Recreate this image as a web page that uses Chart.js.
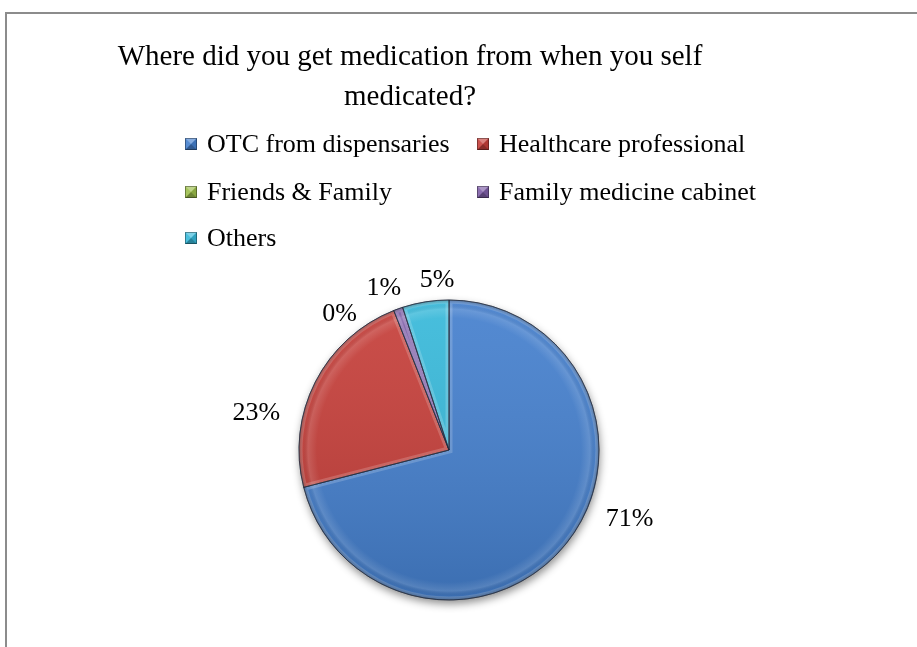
<!doctype html>
<html lang="en">
<head>
<meta charset="utf-8">
<title>Where did you get medication from when you self medicated?</title>
<style>
  * { margin: 0; padding: 0; }
  body { background: #fff; width: 917px; height: 647px; overflow: hidden; position: relative; }
  .frame { position: absolute; left: 5px; top: 12px; width: 940px; height: 700px; border: 2px solid #8c8c8c; }
  #pie { position: absolute; left: 0; top: 0; }
</style>
</head>
<body>
<div class="frame"></div>
<canvas id="pie" width="917" height="647"></canvas>
<script src="https://cdn.jsdelivr.net/npm/chart.js/dist/chart.umd.min.js"></script>
<script>
// data
const sources = ['OTC from dispensaries', 'Healthcare professional', 'Friends & Family', 'Family medicine cabinet', 'Others'];
const shares = [71, 23, 0, 1, 5];
const titleLines = ['Where did you get medication from when you self', 'medicated?'];

// look
const sliceColors = ['#4580CE', '#C63F3A', '#9DBF4C', '#7F5FA8', '#38B9DA'];
const serif = "'Liberation Serif', 'Times New Roman', serif";
const titleX = 410, titleY = [57, 97];
const legendCols = [185, 477], legendRows = [144, 192, 238];
// labels sit just outside the rim, then get pushed a little like excel's best fit
const labelGap = 28;
const labelNudge = [[40, -40], [-34, 44], [-44, 30], [-5, 6], [16, 6]];

function bevelBox(ctx, x, y, s, color) {
  ctx.fillStyle = color;
  ctx.fillRect(x, y, s, s);
  const cx = x + s / 2, cy = y + s / 2;
  const tri = (ax, ay, bx, by, fill) => {
    ctx.beginPath();
    ctx.moveTo(ax, ay); ctx.lineTo(bx, by); ctx.lineTo(cx, cy); ctx.closePath();
    ctx.fillStyle = fill; ctx.fill();
  };
  tri(x, y, x + s, y, 'rgba(255,255,255,0.35)');
  tri(x, y + s, x + s, y + s, 'rgba(0,0,0,0.3)');
  tri(x, y, x, y + s, 'rgba(255,255,255,0.1)');
  tri(x + s, y, x + s, y + s, 'rgba(0,0,0,0.12)');
  ctx.strokeStyle = 'rgba(0,0,0,0.35)';
  ctx.lineWidth = 1;
  ctx.strokeRect(x + 0.5, y + 0.5, s - 1, s - 1);
}

function slicePath(ctx, a) {
  ctx.beginPath();
  ctx.moveTo(a.x, a.y);
  ctx.arc(a.x, a.y, a.outerRadius, a.startAngle, a.endAngle);
  ctx.closePath();
}

const pieDecor = {
  id: 'pieDecor',
  beforeDatasetsDraw(chart) {
    // drop shadow under the whole pie
    const a = chart.getDatasetMeta(0).data[0];
    const ctx = chart.ctx;
    ctx.save();
    ctx.shadowColor = 'rgba(0,0,0,0.45)';
    ctx.shadowBlur = 9;
    ctx.shadowOffsetX = 1;
    ctx.shadowOffsetY = 4;
    ctx.fillStyle = '#fff';
    ctx.beginPath();
    ctx.arc(a.x, a.y, a.outerRadius, 0, Math.PI * 2);
    ctx.fill();
    ctx.restore();
  },
  afterDatasetsDraw(chart) {
    const ctx = chart.ctx;
    chart.getDatasetMeta(0).data.forEach(a => {
      if (a.endAngle - a.startAngle <= 0) return;
      const { x, y, outerRadius: r } = a;
      ctx.save();
      slicePath(ctx, a);
      ctx.clip();
      const lin = ctx.createLinearGradient(0, y - r, 0, y + r);
      lin.addColorStop(0, 'rgba(255,255,255,0.08)');
      lin.addColorStop(1, 'rgba(0,0,0,0.14)');
      ctx.fillStyle = lin;
      ctx.fillRect(x - r, y - r, 2 * r, 2 * r);
      const rad = ctx.createRadialGradient(x, y, 0, x, y, r);
      rad.addColorStop(0, 'rgba(255,255,255,0)');
      rad.addColorStop(0.88, 'rgba(255,255,255,0)');
      rad.addColorStop(0.94, 'rgba(255,255,255,0.13)');
      rad.addColorStop(0.975, 'rgba(0,0,0,0)');
      rad.addColorStop(1, 'rgba(0,0,0,0.3)');
      ctx.fillStyle = rad;
      ctx.fillRect(x - r, y - r, 2 * r, 2 * r);
      // soft highlight along cut edges
      slicePath(ctx, a);
      ctx.strokeStyle = 'rgba(255,255,255,0.18)';
      ctx.lineWidth = 7;
      ctx.stroke();
      ctx.restore();
      ctx.save();
      slicePath(ctx, a);
      ctx.strokeStyle = 'rgba(25,35,55,0.6)';
      ctx.lineWidth = 1;
      ctx.stroke();
      ctx.restore();
    });
  },
  afterDraw(chart) {
    const ctx = chart.ctx;
    ctx.save();
    ctx.fillStyle = '#000';
    ctx.textBaseline = 'middle';

    // title
    ctx.font = '29px ' + serif;
    ctx.textAlign = 'center';
    titleLines.forEach((t, i) => ctx.fillText(t, titleX, titleY[i]));

    // legend, two columns
    ctx.font = '26px ' + serif;
    ctx.textAlign = 'left';
    sources.forEach((s, i) => {
      const lx = legendCols[i % 2], ly = legendRows[Math.floor(i / 2)];
      bevelBox(ctx, lx, ly - 6, 12, sliceColors[i]);
      ctx.fillStyle = '#000';
      ctx.fillText(s, lx + 22, ly + 1);
    });

    // percentage labels
    ctx.textAlign = 'center';
    const total = shares.reduce((s, v) => s + v, 0);
    chart.getDatasetMeta(0).data.forEach((a, i) => {
      const mid = (a.startAngle + a.endAngle) / 2;
      const d = a.outerRadius + labelGap;
      const px = a.x + Math.cos(mid) * d + labelNudge[i][0];
      const py = a.y + Math.sin(mid) * d + labelNudge[i][1];
      ctx.fillText(Math.round(shares[i] / total * 100) + '%', px, py);
    });
    ctx.restore();
  }
};

new Chart(document.getElementById('pie'), {
  type: 'pie',
  data: {
    labels: sources,
    datasets: [{
      data: shares,
      backgroundColor: sliceColors,
      borderColor: 'rgba(25,35,55,0.6)',
      borderWidth: 1
    }]
  },
  options: {
    responsive: false,
    devicePixelRatio: 1,
    animation: false,
    radius: 150,
    layout: { padding: { left: 299, right: 318, top: 300, bottom: 47 } },
    plugins: {
      legend: { display: false },
      tooltip: { enabled: false }
    }
  },
  plugins: [pieDecor]
});
</script>
</body>
</html>
